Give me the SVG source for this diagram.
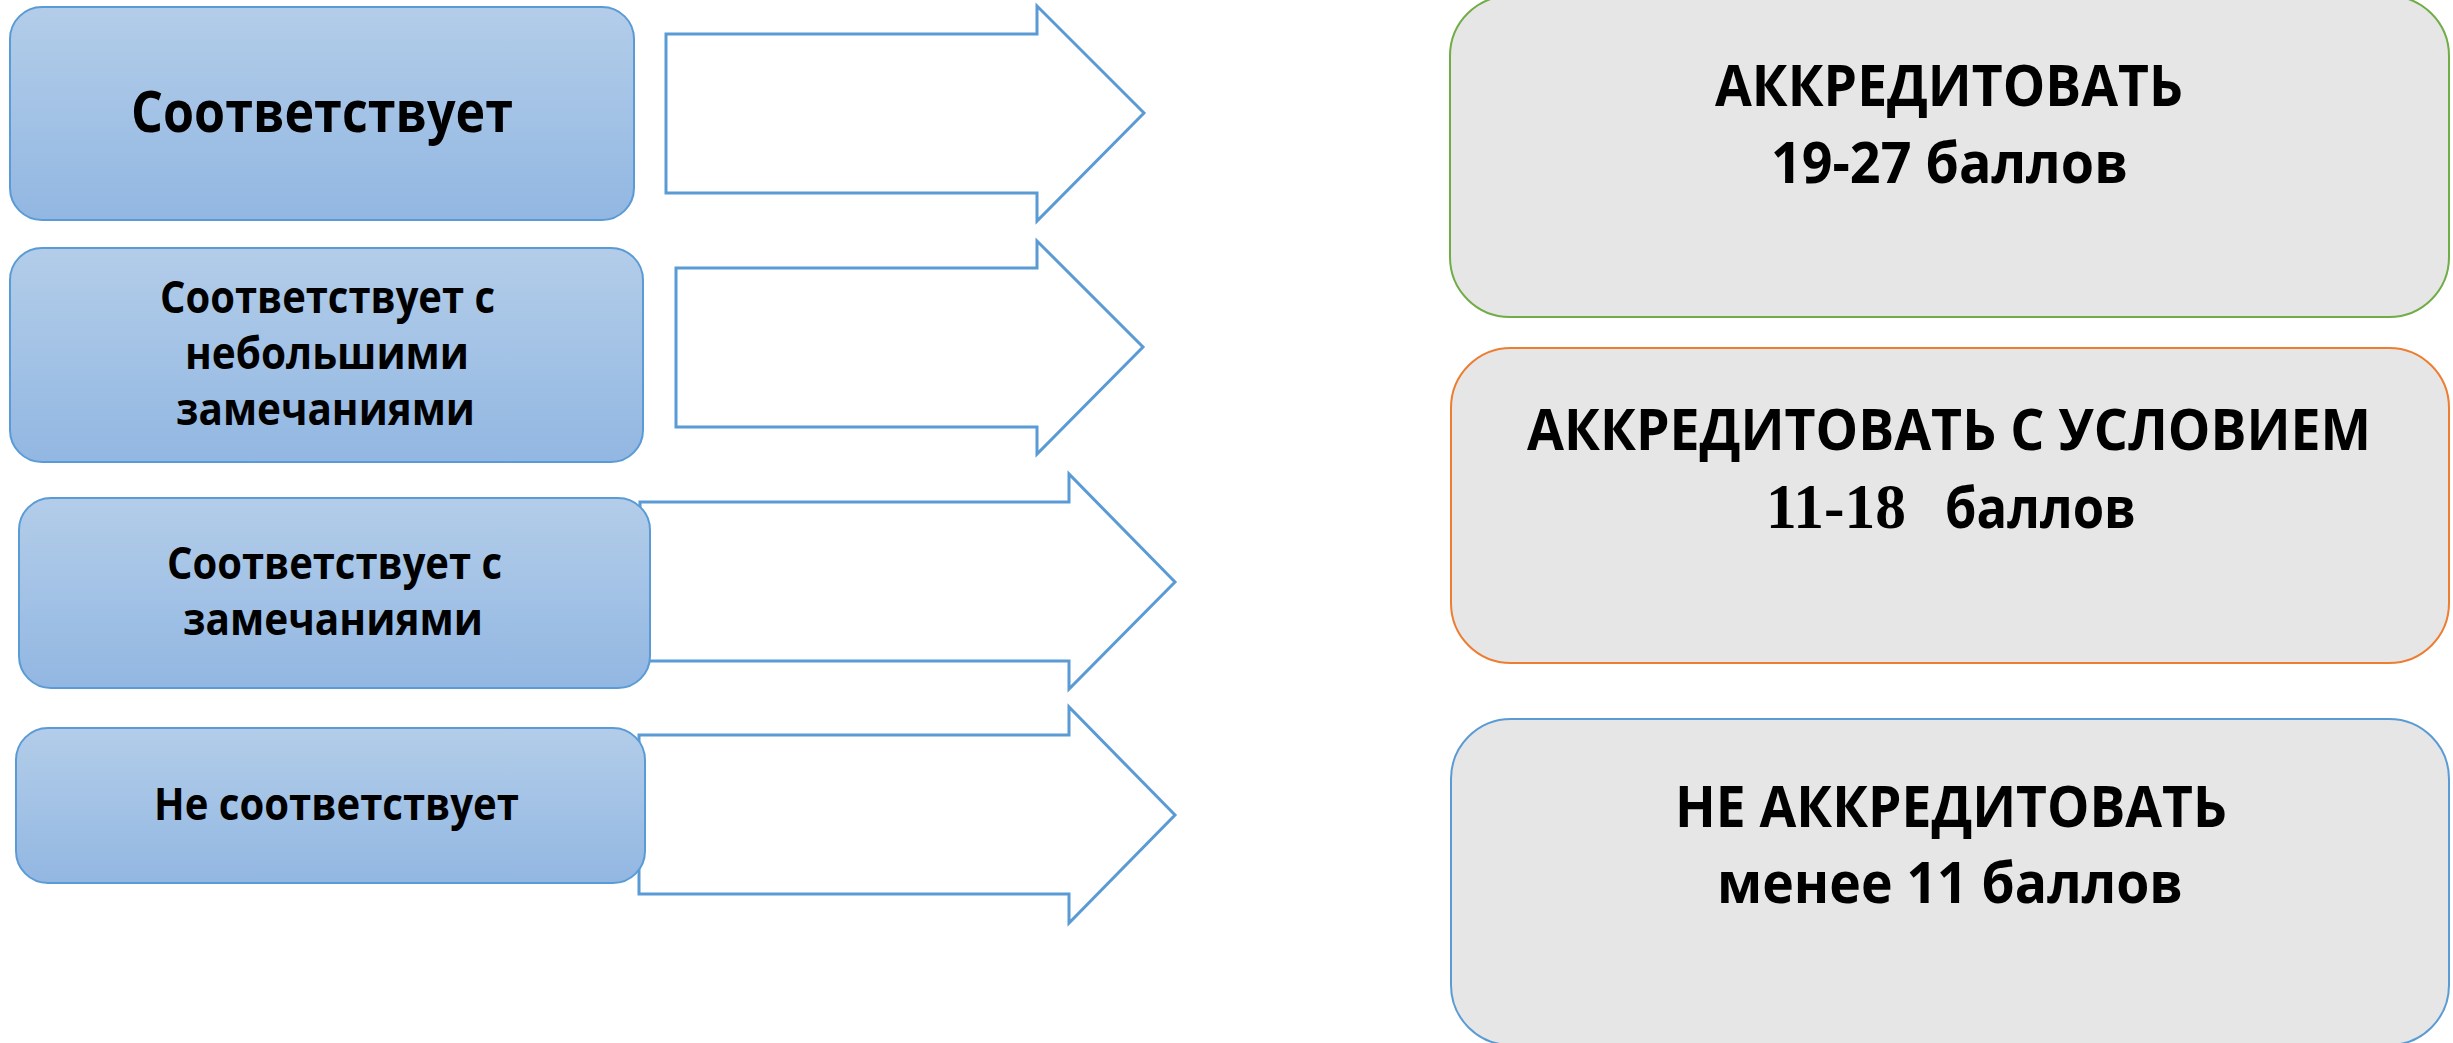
<svg xmlns="http://www.w3.org/2000/svg" width="2453" height="1043" viewBox="0 0 2453 1043">
<defs>
<linearGradient id="blueGrad" x1="0" y1="0" x2="0" y2="1">
<stop offset="0" stop-color="#b3cde9"/>
<stop offset="1" stop-color="#92b7e2"/>
</linearGradient>
<style>
.src{fill:url(#blueGrad);stroke:#5b9bd5;stroke-width:2}
.res{fill:#e6e6e6;stroke-width:2}
.arrow{fill:#ffffff;stroke:#5b9bd5;stroke-width:3;stroke-linejoin:miter}
.t{font-family:"Open Sans","Noto Sans","Liberation Sans",sans-serif;font-weight:bold;fill:#000000}
.serif{font-family:"Liberation Serif","Times New Roman",serif;font-weight:bold}
</style>
</defs>
<rect width="2453" height="1043" fill="#ffffff"/>
<g id="connectors">
<path class="arrow" d="M666,34 H1037 V6 L1144,113 L1037,221 V193 H666 Z"/>
<path class="arrow" d="M676,268 H1037 V241 L1143,347 L1037,454 V427 H676 Z"/>
<path class="arrow" d="M640,502 H1069 V474 L1175,582 L1069,689 V661 H640 Z"/>
<path class="arrow" d="M639,735 H1069 V707 L1175,815 L1069,923 V894 H639 Z"/>
</g>
<g id="node-sootv">
<rect class="src" x="10" y="7" width="624" height="213" rx="32"/>
<text class="t" x="131" y="132" font-size="57" textLength="382" lengthAdjust="spacingAndGlyphs">Соответствует</text>
</g>
<g id="node-sootv-nebolsh">
<rect class="src" x="10" y="248" width="633" height="214" rx="32"/>
<text class="t" x="160" y="313" font-size="44" textLength="335" lengthAdjust="spacingAndGlyphs">Соответствует с</text>
<text class="t" x="185" y="369" font-size="44" textLength="284" lengthAdjust="spacingAndGlyphs">небольшими</text>
<text class="t" x="176" y="425" font-size="44" textLength="299" lengthAdjust="spacingAndGlyphs">замечаниями</text>
</g>
<g id="node-sootv-zamech">
<rect class="src" x="19" y="498" width="631" height="190" rx="32"/>
<text class="t" x="167" y="579" font-size="44" textLength="335" lengthAdjust="spacingAndGlyphs">Соответствует с</text>
<text class="t" x="183" y="635" font-size="44" textLength="300" lengthAdjust="spacingAndGlyphs">замечаниями</text>
</g>
<g id="node-ne-sootv">
<rect class="src" x="16" y="728" width="629" height="155" rx="32"/>
<text class="t" x="154" y="820" font-size="44" textLength="365" lengthAdjust="spacingAndGlyphs">Не соответствует</text>
</g>
<g id="node-akkred">
<rect class="res" x="1450" y="-4" width="999" height="321" rx="60" stroke="#70ad47"/>
<text class="t" x="1715" y="106" font-size="58" textLength="468" lengthAdjust="spacingAndGlyphs">АККРЕДИТОВАТЬ</text>
<text class="t" x="1771" y="183" font-size="58" textLength="357" lengthAdjust="spacingAndGlyphs">19-27 баллов</text>
</g>
<g id="node-akkred-uslov">
<rect class="res" x="1451" y="348" width="998" height="315" rx="60" stroke="#ed7d31"/>
<text class="t" x="1527" y="450" font-size="58" textLength="844" lengthAdjust="spacingAndGlyphs">АККРЕДИТОВАТЬ С УСЛОВИЕМ</text>
<text class="t" y="528" font-size="58"><tspan class="serif" x="1766" font-size="64" textLength="140" lengthAdjust="spacingAndGlyphs">11-18</tspan><tspan x="1945" textLength="191" lengthAdjust="spacingAndGlyphs">баллов</tspan></text>
</g>
<g id="node-ne-akkred">
<rect class="res" x="1451" y="719" width="998" height="326" rx="60" stroke="#5b9bd5"/>
<text class="t" x="1675" y="827" font-size="58" textLength="552" lengthAdjust="spacingAndGlyphs">НЕ АККРЕДИТОВАТЬ</text>
<text class="t" x="1717" y="903" font-size="58" textLength="466" lengthAdjust="spacingAndGlyphs">менее 11 баллов</text>
</g>
</svg>
